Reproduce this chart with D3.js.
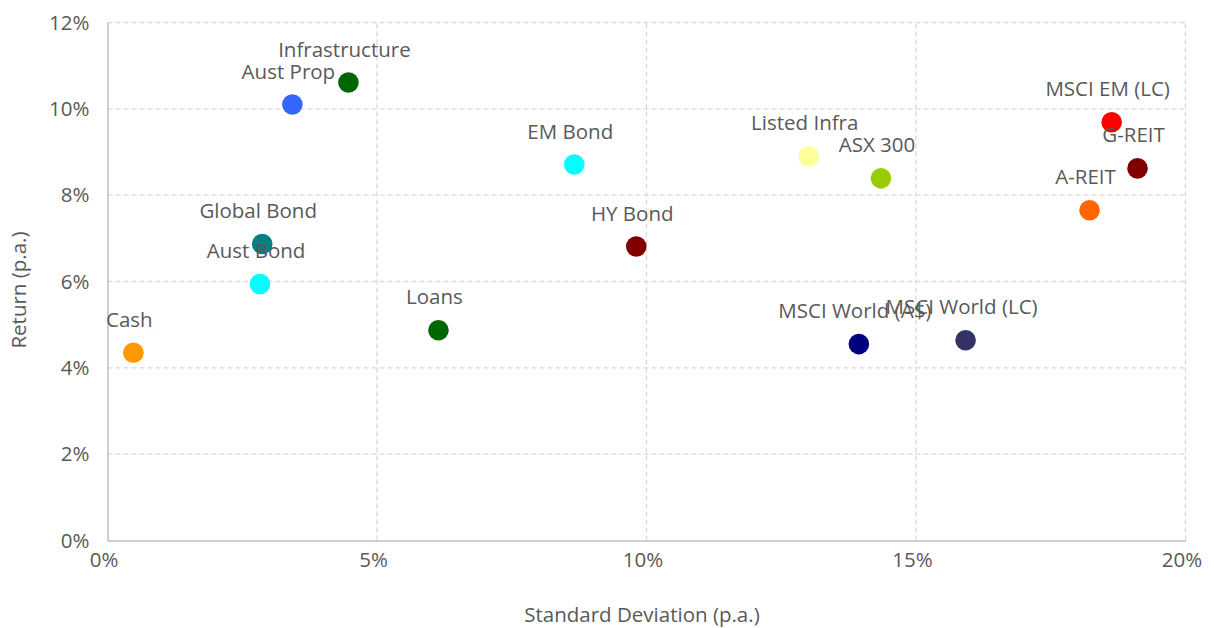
<!DOCTYPE html>
<html>
<head>
<meta charset="utf-8">
<script src="https://cdn.jsdelivr.net/npm/d3@7"></script>
<style>
  html, body { margin: 0; padding: 0; background: #fff; }
  svg { display: block; }
  text { font-family: "Open Sans", "DejaVu Sans", sans-serif; fill: #595959; }
</style>
</head>
<body>
<svg id="chart" width="1214" height="628"></svg>
<script>
const names = ["Cash", "Aust Bond", "Global Bond", "Aust Prop", "Infrastructure", "Loans", "EM Bond", "HY Bond",
  "Listed Infra", "ASX 300", "MSCI World (A$)", "MSCI World (LC)", "A-REIT", "MSCI EM (LC)", "G-REIT"];
const stdev = [0.48, 2.83, 2.87, 3.43, 4.47, 6.14, 8.66, 9.81, 13.01, 14.35, 13.94, 15.92, 18.22, 18.63, 19.11];
const returns = [4.35, 5.94, 6.87, 10.10, 10.61, 4.87, 8.71, 6.81, 8.90, 8.39, 4.55, 4.64, 7.65, 9.69, 8.62];
const colors = ["#FF9900", "#00FFFF", "#008080", "#3366FF", "#006600", "#006600", "#00FFFF", "#800000",
  "#FFFF99", "#99CC00", "#000080", "#333366", "#FF6600", "#FF0000", "#800000"];
const xTicks = [0, 5, 10, 15, 20];
const yTicks = [0, 2, 4, 6, 8, 10, 12];
const xTitle = "Standard Deviation (p.a.)";
const yTitle = "Return (p.a.)";

const svg = d3.select("#chart");
const x = d3.scaleLinear().domain([0, 20]).range([107.5, 1185.5]);
const y = d3.scaleLinear().domain([0, 12]).range([540.5, 22.5]);
const fs = 20.5;

// gridlines
const grid = svg.append("g");
grid.selectAll("line.hg").data(yTicks.filter(d => d > 0)).join("line")
  .attr("x1", x(0)).attr("x2", x(20))
  .attr("y1", d => y(d)).attr("y2", d => y(d))
  .attr("stroke", "#d9d9d9").attr("stroke-width", 1.3).attr("stroke-dasharray", "5,3");
grid.selectAll("line.vg").data(xTicks.filter(d => d > 0)).join("line")
  .attr("y1", y(0)).attr("y2", y(12))
  .attr("x1", d => x(d)).attr("x2", d => x(d))
  .attr("stroke", "#d9d9d9").attr("stroke-width", 1.3).attr("stroke-dasharray", "5,3");

// axes
const xAxis = d3.axisBottom(x).tickValues(xTicks).tickFormat(d => d + "%").tickSize(0).tickPadding(12);
const yAxis = d3.axisLeft(y).tickValues(yTicks).tickFormat(d => d + "%").tickSize(0).tickPadding(18);
const gx = svg.append("g").attr("transform", `translate(0,${y(0)})`).call(xAxis);
const gy = svg.append("g").attr("transform", `translate(${x(0)},0)`).call(yAxis);
[gx, gy].forEach(g => {
  g.select(".domain").attr("stroke", "#bfbfbf").attr("stroke-width", 1.5);
  g.selectAll("text").attr("font-size", fs).attr("fill", "#595959")
    .style("font-family", '"Open Sans", sans-serif');
});
gx.selectAll(".tick text").attr("dx", -4);

// axis titles
svg.append("text").attr("x", 642).attr("y", 622).attr("text-anchor", "middle")
  .attr("font-size", fs).text(xTitle);
svg.append("text").attr("transform", `translate(26,290) rotate(-90)`).attr("text-anchor", "middle")
  .attr("font-size", fs).text(yTitle);

// points
const data = names.map((n, i) => ({ name: n, sd: stdev[i], ret: returns[i], color: colors[i] }));
svg.append("g").selectAll("circle").data(data).join("circle")
  .attr("cx", d => x(d.sd)).attr("cy", d => y(d.ret)).attr("r", 10.3)
  .attr("fill", d => d.color);

// labels
svg.append("g").selectAll("text").data(data).join("text")
  .attr("x", d => x(d.sd) - 4).attr("y", d => y(d.ret) - 26)
  .attr("text-anchor", "middle").attr("font-size", fs).text(d => d.name);
</script>
</body>
</html>
